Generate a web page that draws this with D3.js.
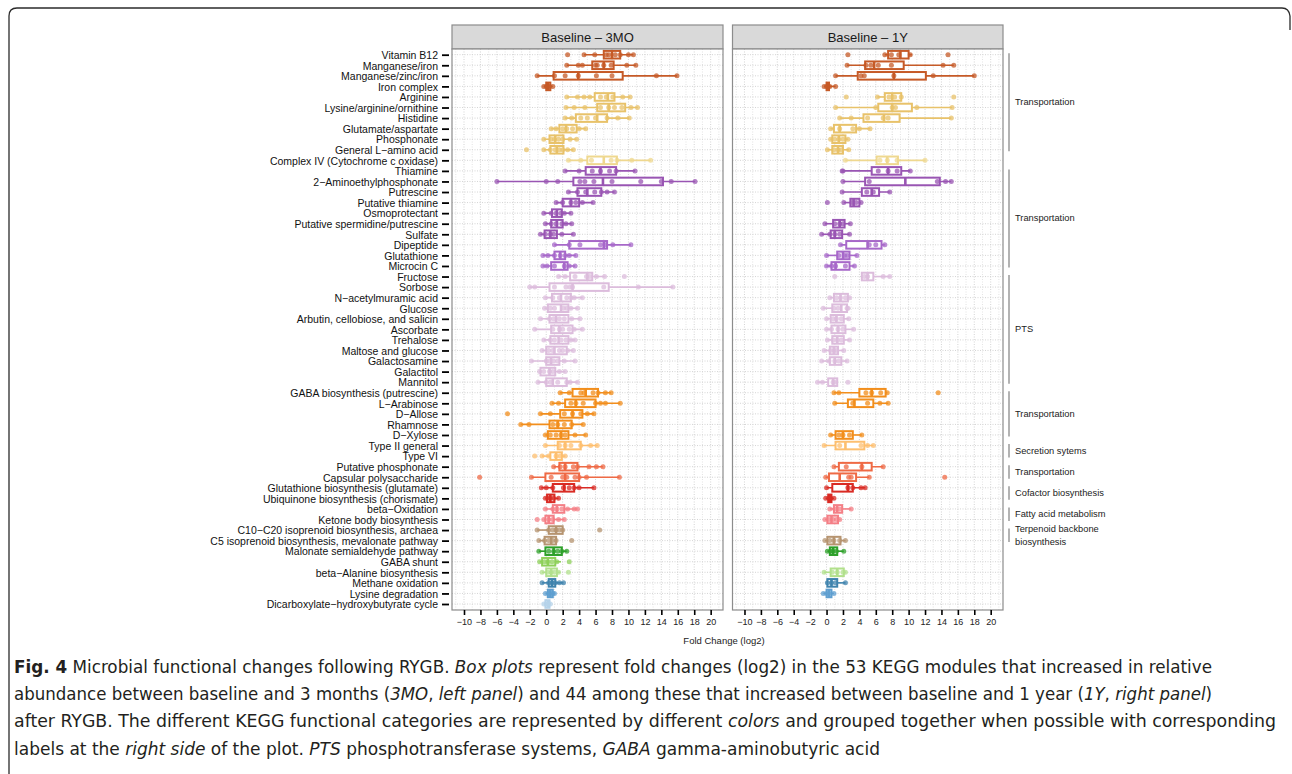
<!DOCTYPE html>
<html>
<head>
<meta charset="utf-8">
<script src="https://cdn.jsdelivr.net/npm/d3@7"></script>
<style>
  body { margin: 0; background: #fff; }
  svg { display: block; }
</style>
</head>
<body>
<div id="chart"></div>
<script>
// KEGG modules, top to bottom
const modules = [
  'Vitamin B12', 'Manganese/iron', 'Manganese/zinc/iron', 'Iron complex', 'Arginine',
  'Lysine/arginine/ornithine', 'Histidine', 'Glutamate/aspartate', 'Phosphonate', 'General L\u2212amino acid',
  'Complex IV (Cytochrome c oxidase)', 'Thiamine', '2\u2212Aminoethylphosphonate', 'Putrescine', 'Putative thiamine',
  'Osmoprotectant', 'Putative spermidine/putrescine', 'Sulfate', 'Dipeptide', 'Glutathione',
  'Microcin C', 'Fructose', 'Sorbose', 'N\u2212acetylmuramic acid', 'Glucose',
  'Arbutin, cellobiose, and salicin', 'Ascorbate', 'Trehalose', 'Maltose and glucose', 'Galactosamine',
  'Galactitol', 'Mannitol', 'GABA biosynthesis (putrescine)', 'L\u2212Arabinose', 'D\u2212Allose',
  'Rhamnose', 'D\u2212Xylose', 'Type II general', 'Type VI', 'Putative phosphonate',
  'Capsular polysaccharide', 'Glutathione biosynthesis (glutamate)', 'Ubiquinone biosynthesis (chorismate)', 'beta\u2212Oxidation', 'Ketone body biosynthesis',
  'C10\u2212C20 isoprenoid biosynthesis, archaea', 'C5 isoprenoid biosynthesis, mevalonate pathway', 'Malonate semialdehyde pathway', 'GABA shunt', 'beta\u2212Alanine biosynthesis',
  'Methane oxidation', 'Lysine degradation', 'Dicarboxylate\u2212hydroxybutyrate cycle'
];

// colour group of every module (index into palette)
const moduleGroup = [
  0, 0, 0, 0, 1, 1, 1, 1, 1, 1,
  2, 3, 3, 3, 3, 3, 3, 3, 4, 4,
  4, 5, 5, 5, 5, 5, 5, 5, 5, 5,
  5, 5, 6, 6, 6, 6, 6, 7, 7, 8,
  8, 9, 9, 10, 10, 11, 11, 12, 13, 14,
  15, 16, 17
];
const palette = [
  '#c65a27', '#e8c26a', '#efd88f', '#9955b3', '#a768c9', '#dcbcdc',
  '#f28e1c', '#fdbf6f', '#ef6a45', '#d92b24', '#f47f86', '#b69470',
  '#2ea02a', '#8ed05a', '#b2e08c', '#3f83ad', '#5f9fd0', '#b5d3ea'
];

// box stats [lower whisker, q1, median, q3, upper whisker] - baseline to 3MO
const box3mo = [
  [4.6, 7.0, 8.0, 9.0, 10.6], [2.5, 5.6, 7.0, 8.2, 10.9], [-1.1, 0.9, 3.9, 9.3, 15.9], [-0.3, 0.0, 0.2, 0.5, 0.8],
  [2.5, 5.9, 7.5, 8.3, 10.2], [2.4, 6.2, 7.6, 9.6, 11.1], [2.3, 3.6, 6.2, 7.4, 10.1], [0.6, 1.6, 2.4, 3.7, 4.8],
  [-0.3, 0.4, 1.1, 2.1, 3.7], [-0.3, 0.5, 1.3, 2.1, 3.3], [2.7, 5.0, 7.0, 8.6, 12.7], [2.3, 4.8, 6.6, 8.5, 10.8],
  [-6.0, 3.3, 6.9, 14.2, 18.1], [2.7, 3.8, 5.0, 6.7, 8.3], [1.2, 2.0, 3.0, 4.0, 5.7], [-0.3, 0.7, 1.3, 1.9, 3.0],
  [-0.1, 0.6, 1.3, 2.0, 3.1], [-0.7, -0.2, 0.5, 1.3, 3.3], [1.0, 2.8, 7.0, 7.4, 10.3], [-0.4, 1.0, 1.7, 2.3, 3.6],
  [-0.4, 0.6, 2.2, 2.6, 3.5], [1.5, 2.9, 5.0, 5.6, 7.1], [-2.0, 0.4, 3.2, 7.6, 15.4], [-0.1, 0.7, 1.8, 3.0, 4.4],
  [-0.2, 0.2, 1.8, 2.7, 3.8], [-0.7, 0.4, 1.2, 2.7, 4.1], [-1.4, 0.6, 1.6, 3.2, 4.4], [-0.3, 0.5, 1.5, 2.7, 3.5],
  [-0.5, 0.0, 1.0, 2.5, 3.3], [-1.8, 0.0, 0.6, 1.6, 3.5], [-0.8, -0.7, 0.4, 1.1, 2.3], [-1.0, 0.0, 0.8, 2.5, 3.8],
  [1.7, 3.2, 4.8, 6.3, 7.9], [0.7, 2.3, 3.6, 6.0, 9.0], [-0.7, 1.7, 3.2, 4.4, 5.8], [-3.1, 0.4, 1.4, 3.1, 4.5],
  [-0.1, 0.2, 1.8, 2.7, 4.8], [-0.1, 1.4, 2.3, 4.2, 6.2], [-0.5, 0.5, 1.2, 1.9, 2.3], [0.9, 1.6, 2.3, 3.8, 6.9],
  [-1.8, -0.1, 2.3, 4.0, 8.9], [-0.6, 0.8, 2.2, 3.4, 5.8], [-0.1, 0.1, 0.5, 1.0, 1.5], [-0.1, 0.8, 1.3, 2.2, 3.8],
  [-0.3, -0.1, 0.3, 0.9, 2.2], [-1.1, 0.3, 1.2, 2.0, 2.1], [-0.9, -0.2, 0.6, 1.2, 1.3], [-0.9, -0.1, 0.9, 1.9, 2.5],
  [-0.8, -0.5, 0.2, 1.1, 1.8], [-0.5, 0.0, 0.6, 1.3, 1.7], [-0.5, 0.3, 0.7, 1.1, 2.1], [-0.1, 0.2, 0.5, 0.8, 1.0],
  [-0.3, -0.1, 0.2, 0.4, 0.5]
];

// individual samples - baseline to 3MO
const points3mo = [
  [2.6, 4.6, 5.9, 7.3, 7.6, 8.4, 9.0, 10.0, 10.6], [2.5, 3.9, 4.4, 6.0, 6.2, 7.0, 7.9, 9.8, 10.9],
  [-1.1, 1.0, 2.3, 3.9, 6.1, 8.0, 13.4, 15.9], [-0.3, 0.0, 0.2, 0.4, 0.8],
  [2.5, 3.8, 4.6, 5.3, 6.6, 7.3, 8.1, 9.3, 10.2], [2.4, 3.4, 4.7, 6.6, 7.6, 8.3, 9.2, 10.3, 11.1],
  [2.3, 3.1, 4.2, 5.0, 6.0, 7.4, 8.7, 10.1], [0.6, 1.2, 2.0, 2.5, 3.2, 4.0, 4.8],
  [-0.3, 0.6, 1.0, 1.5, 2.0, 2.9, 3.7], [-2.4, -0.3, 0.5, 1.1, 1.6, 2.0, 2.6, 3.3],
  [2.7, 4.2, 5.5, 7.9, 8.6, 10.4, 12.7], [2.3, 4.0, 5.6, 6.6, 7.7, 8.5, 10.8],
  [-6.0, 0.0, 1.4, 4.1, 4.7, 5.8, 8.0, 11.5, 14.0, 15.2, 18.1], [2.7, 3.8, 4.8, 5.9, 6.7, 7.4, 8.3],
  [1.2, 2.0, 3.0, 3.6, 4.4, 5.7], [-0.3, 0.6, 1.2, 1.8, 2.2, 3.0],
  [-0.1, 0.6, 1.2, 1.9, 2.4, 3.1], [-0.7, -0.1, 0.5, 0.9, 1.9, 3.3],
  [1.0, 2.8, 4.1, 6.6, 7.2, 8.1, 10.3], [-0.4, 0.2, 1.0, 1.7, 2.3, 2.8, 3.6],
  [-0.4, 0.1, 1.0, 2.2, 2.8, 3.5], [1.5, 2.3, 3.5, 4.9, 5.3, 6.1, 7.1, 9.5],
  [-2.0, -1.4, 1.0, 2.4, 2.9, 3.2, 7.0, 11.2, 15.4], [-0.1, 0.8, 1.6, 2.5, 3.0, 3.4, 4.4],
  [-0.2, 0.5, 1.0, 2.1, 2.5, 3.0, 3.8], [-0.7, 0.4, 0.9, 1.6, 2.2, 3.1, 4.1],
  [-1.4, 0.8, 1.6, 2.0, 2.8, 3.4, 4.4], [-0.3, 0.5, 1.0, 1.8, 2.4, 3.0, 3.5],
  [-0.5, 0.3, 0.8, 1.6, 2.0, 2.6, 3.3], [-1.8, 0.0, 0.4, 0.9, 1.4, 2.2, 3.5],
  [-0.8, -0.3, 0.4, 0.8, 1.6, 2.3], [-1.0, 0.0, 0.5, 1.4, 2.5, 2.9, 3.8],
  [1.7, 2.8, 4.2, 4.6, 5.7, 6.3, 7.2, 7.9], [0.7, 1.5, 3.0, 3.6, 4.5, 6.0, 6.6, 7.2, 9.0],
  [-4.7, -0.7, 0.5, 2.2, 3.2, 4.2, 5.0, 5.8], [-3.1, -2.1, 0.8, 1.4, 2.2, 3.1, 4.5],
  [-0.1, 0.5, 1.2, 1.8, 2.3, 3.5, 4.8], [-0.1, 1.6, 2.3, 3.0, 4.2, 5.4, 6.2],
  [-1.4, -0.5, 0.3, 1.2, 1.7, 2.3], [0.9, 1.7, 2.3, 3.3, 3.8, 5.2, 6.1, 6.9],
  [-8.1, -1.8, 0.6, 2.0, 2.5, 3.5, 4.0, 4.9, 8.9], [-0.6, 0.0, 0.8, 2.1, 2.8, 3.4, 4.0, 5.8],
  [-0.1, 0.2, 0.5, 0.9, 1.5], [-0.1, 0.8, 1.3, 1.9, 2.6, 3.4, 3.8],
  [-1.1, -0.3, 0.3, 0.8, 1.5, 2.2], [-1.1, 0.3, 0.8, 1.2, 1.6, 2.0, 6.5],
  [-0.9, -0.2, 0.3, 0.8, 1.2, 3.1], [-0.9, 0.3, 0.9, 1.4, 1.9, 2.5],
  [-0.8, -0.2, 0.2, 0.7, 1.3, 2.8], [-0.5, 0.2, 0.6, 1.0, 1.5, 2.7],
  [-0.5, 0.3, 0.7, 1.1, 1.6, 2.1], [-0.1, 0.3, 0.5, 0.8, 1.0],
  [-0.3, 0.0, 0.2, 0.5]
];

// box stats - baseline to 1Y (null = module not increased at 1Y)
const box1y = [
  [7.1, 7.5, 9.0, 10.0, 10.4], [2.5, 4.7, 5.8, 9.4, 15.5], [1.1, 3.8, 8.2, 12.1, 18.0], [-0.3, 0.0, 0.2, 0.3, 1.1],
  [6.2, 7.1, 8.0, 9.1, 9.1], [1.1, 6.3, 8.0, 10.4, 15.3], [1.6, 4.5, 7.0, 8.9, 15.2], [0.5, 0.9, 1.6, 3.6, 5.3],
  [0.5, 0.7, 1.5, 2.3, 2.6], [0.1, 0.7, 1.4, 2.0, 2.7], [2.3, 6.1, 7.4, 8.7, 12.0], [1.9, 5.5, 7.5, 9.1, 10.2],
  [2.0, 4.7, 9.6, 13.8, 15.2], [1.9, 4.3, 5.5, 6.4, 7.7], [2.1, 2.9, 3.3, 4.0, 4.2], null,
  [-0.2, 0.8, 1.6, 2.2, 2.9], [-0.6, 0.5, 1.0, 1.9, 2.8], [1.7, 2.4, 5.0, 6.7, 7.1], [0.0, 1.3, 2.0, 2.8, 3.7],
  [0.0, 0.6, 1.1, 2.8, 3.4], [4.3, 4.3, 5.0, 5.7, 7.7], null, [0.4, 0.9, 1.7, 2.6, 2.8],
  [-0.4, 0.7, 1.8, 2.5, 2.6], [0.0, 0.5, 1.2, 2.1, 2.7], [0.0, 0.6, 1.4, 2.3, 3.3], [0.1, 0.7, 1.3, 2.1, 2.8],
  [-0.3, 0.4, 0.9, 1.4, 2.1], [-0.6, 0.4, 1.0, 1.8, 2.5], null, [-1.1, 0.2, 0.8, 1.3, 1.3],
  [0.9, 4.0, 5.5, 7.2, 7.4], [1.0, 2.6, 3.4, 5.7, 7.5], null, null,
  [0.5, 1.1, 2.0, 3.2, 4.3], [-0.3, 1.1, 2.3, 4.6, 5.7], null, [0.9, 1.5, 4.3, 5.5, 6.9],
  [-0.1, 0.3, 1.6, 3.6, 5.2], [0.0, 0.7, 2.6, 3.2, 4.7], [-0.1, 0.2, 0.4, 0.6, 0.9], [0.4, 0.9, 1.3, 1.9, 3.0],
  [-0.2, 0.1, 0.6, 1.4, 1.6], null, [-0.2, 0.1, 0.9, 1.7, 2.3], [0.1, 0.4, 0.8, 1.3, 2.1],
  null, [-0.3, 0.5, 1.3, 2.1, 2.3], [0.1, 0.1, 0.6, 1.3, 2.3], [-0.4, 0.0, 0.3, 0.6, 0.9],
  null
];

const points1y = [
  [2.6, 7.1, 7.9, 8.8, 10.2, 14.8], [2.5, 4.8, 5.4, 6.3, 7.9, 14.2, 15.5],
  [1.1, 4.2, 4.6, 8.2, 13.0, 18.0], [-0.3, 0.0, 0.2, 0.4, 1.1],
  [2.4, 6.2, 7.6, 8.3, 9.1, 15.5], [1.1, 6.0, 8.0, 8.4, 11.0, 15.3],
  [1.6, 3.0, 5.0, 6.9, 7.5, 15.2], [0.5, 1.6, 3.2, 4.0, 5.3],
  [0.5, 1.0, 1.5, 2.0, 2.6], [0.1, 0.9, 1.4, 1.8, 2.7],
  [2.3, 6.5, 7.4, 8.6, 12.0], [1.9, 2.0, 6.3, 7.5, 8.6, 10.2],
  [2.0, 5.2, 13.5, 14.5, 15.2], [1.9, 4.9, 5.7, 7.7],
  [0.1, 2.1, 3.1, 3.6, 4.2], [],
  [-0.2, 1.0, 1.6, 2.0, 2.9], [-0.6, 0.4, 1.0, 1.6, 2.8],
  [1.7, 5.2, 6.0, 7.1], [0.0, 1.5, 2.2, 2.5, 3.7],
  [0.0, 0.6, 1.1, 2.3, 3.4], [1.0, 4.6, 5.0, 6.9, 7.7],
  [], [0.4, 1.2, 1.7, 2.3, 2.8],
  [-0.4, 0.9, 1.4, 2.5, 2.6], [0.0, 0.8, 1.2, 1.8, 2.7],
  [0.0, 0.6, 1.4, 2.0, 3.3], [0.1, 0.8, 1.3, 1.8, 2.8],
  [-0.3, 0.5, 0.9, 1.2, 2.1], [-0.6, 0.3, 1.0, 1.5, 2.5],
  [], [-1.1, -0.5, 0.8, 1.0, 2.6],
  [0.9, 1.5, 4.8, 5.5, 6.6, 7.4, 13.6], [1.0, 3.2, 5.0, 6.5, 7.5],
  [], [],
  [0.5, 1.5, 2.0, 2.8, 4.3], [-0.3, 1.6, 4.2, 5.0, 5.7],
  [], [0.9, 2.4, 4.3, 6.9],
  [-0.1, 2.7, 3.0, 5.2, 14.4], [0.0, 2.6, 3.2, 4.2, 4.7],
  [-0.1, 0.3, 0.5, 0.9], [0.4, 1.0, 1.6, 3.0],
  [-0.2, 0.3, 0.8, 1.2, 1.6], [],
  [-0.2, 0.4, 0.9, 1.6, 2.3], [0.1, 0.5, 0.8, 1.2, 2.1],
  [], [-0.3, 0.7, 1.3, 2.0, 2.3],
  [0.1, 0.6, 1.1, 2.3], [-0.4, 0.0, 0.3, 0.9],
  []
];

// functional category labels at the right side: [first module, last module, label lines]
const categoryLabels = [
  [0, 9, ['Transportation']],
  [11, 20, ['Transportation']],
  [21, 31, ['PTS']],
  [32, 36, ['Transportation']],
  [37, 38, ['Secretion sytems']],
  [39, 40, ['Transportation']],
  [41, 42, ['Cofactor biosynthesis']],
  [43, 44, ['Fatty acid metabolism']],
  [45, 46, ['Terpenoid backbone', 'biosynthesis']]
];

const panelTitles = ['Baseline \u2013 3MO', 'Baseline \u2013 1Y'];
const xTicks = d3.range(-10, 21, 2);

// ---------------------------------------------------------------
const W = 1292, H = 774;
const font = '"Liberation Sans", Arial, Helvetica, sans-serif';

const svg = d3.select('#chart').append('svg')
  .attr('width', W)
  .attr('height', H);

svg.append('rect').attr('width', W).attr('height', H).attr('fill', '#fff');

// rounded frame around the figure
svg.append('path')
  .attr('d', 'M9,774 L9,16 Q9,8 17,8 L1282,8 Q1289,8 1290,16 L1290,30')
  .attr('fill', 'none')
  .attr('stroke', '#2b2b2b')
  .attr('stroke-width', 1.3);

const y = d3.scalePoint()
  .domain(modules)
  .range([54.7, 604]);

const panels = [
  { x0: 452, x1: 723, boxes: box3mo, pts: points3mo },
  { x0: 732.5, x1: 1003, boxes: box1y, pts: points1y }
];
const panelTop = 49, panelBottom = 610, stripTop = 25;

panels.forEach((p, pi) => {
  const x = d3.scaleLinear()
    .domain([-11.46, 21.5])
    .range([p.x0, p.x1]);

  const g = svg.append('g');

  // strip
  g.append('rect')
    .attr('x', p.x0).attr('y', stripTop)
    .attr('width', p.x1 - p.x0).attr('height', panelTop - stripTop)
    .attr('fill', '#d9d9d9')
    .attr('stroke', '#8c8c8c')
    .attr('stroke-width', 1.2);

  g.append('text')
    .attr('x', (p.x0 + p.x1) / 2)
    .attr('y', stripTop + 16.5)
    .attr('text-anchor', 'middle')
    .attr('font-family', font)
    .attr('font-size', 13)
    .attr('fill', '#1a1a1a')
    .text(panelTitles[pi]);

  // panel background + grid
  g.append('rect')
    .attr('x', p.x0).attr('y', panelTop)
    .attr('width', p.x1 - p.x0).attr('height', panelBottom - panelTop)
    .attr('fill', '#fff');

  d3.range(-11, 22, 1).forEach(v => {
    g.append('line')
      .attr('x1', x(v)).attr('x2', x(v))
      .attr('y1', panelTop).attr('y2', panelBottom)
      .attr('stroke', v % 2 === 0 ? '#cfcfcf' : '#e0e0e0')
      .attr('stroke-width', 0.9)
      .attr('stroke-dasharray', '1,1.5');
  });
  modules.forEach(m => {
    g.append('line')
      .attr('x1', p.x0).attr('x2', p.x1)
      .attr('y1', y(m)).attr('y2', y(m))
      .attr('stroke', '#cfcfcf')
      .attr('stroke-width', 0.9)
      .attr('stroke-dasharray', '1,1.5');
  });

  // boxplots
  const bh = 7.6;
  modules.forEach((m, i) => {
    const b = p.boxes[i];
    const col = palette[moduleGroup[i]];
    const cy = y(m);
    if (b) {
      g.append('line')
        .attr('x1', x(b[0])).attr('x2', x(b[4]))
        .attr('y1', cy).attr('y2', cy)
        .attr('stroke', col)
        .attr('stroke-width', 1.6);
      g.append('rect')
        .attr('x', x(b[1])).attr('y', cy - bh / 2)
        .attr('width', Math.max(x(b[3]) - x(b[1]), 1)).attr('height', bh)
        .attr('fill', '#fff')
        .attr('stroke', col)
        .attr('stroke-width', 2);
      g.append('line')
        .attr('x1', x(b[2])).attr('x2', x(b[2]))
        .attr('y1', cy - bh / 2).attr('y2', cy + bh / 2)
        .attr('stroke', col)
        .attr('stroke-width', 2.6);
    }
    g.selectAll(null)
      .data(p.pts[i])
      .join('circle')
      .attr('cx', d => x(d))
      .attr('cy', cy)
      .attr('r', 2.5)
      .attr('fill', col)
      .attr('fill-opacity', 0.75);
  });

  // panel border
  g.append('rect')
    .attr('x', p.x0).attr('y', panelTop)
    .attr('width', p.x1 - p.x0).attr('height', panelBottom - panelTop)
    .attr('fill', 'none')
    .attr('stroke', '#8c8c8c')
    .attr('stroke-width', 1.2);

  // x axis
  const xAxis = g.append('g')
    .attr('transform', `translate(0,${panelBottom})`)
    .call(d3.axisBottom(x).tickValues(xTicks).tickSize(5).tickPadding(4)
      .tickFormat(d => d < 0 ? '\u2212' + Math.abs(d) : d));
  xAxis.select('.domain').remove();
  xAxis.selectAll('line').attr('stroke', '#000').attr('stroke-width', 1.6);
  xAxis.selectAll('text')
    .attr('font-family', font)
    .attr('font-size', 9)
    .attr('fill', '#222');
});

// y axis labels + ticks
const yAxis = svg.append('g')
  .attr('transform', 'translate(451,0)')
  .call(d3.axisLeft(y).tickSize(7).tickPadding(6));
yAxis.select('.domain').remove();
yAxis.selectAll('line').attr('stroke', '#000').attr('stroke-width', 1.8).attr('transform', 'translate(-2,0)');
yAxis.selectAll('text')
  .attr('font-family', font)
  .attr('font-size', 10.5)
  .attr('fill', '#111')
  .attr('dy', '0.36em');

// x axis title
svg.append('text')
  .attr('x', 724)
  .attr('y', 644)
  .attr('text-anchor', 'middle')
  .attr('font-family', font)
  .attr('font-size', 9.5)
  .attr('fill', '#222')
  .text('Fold Change (log2)');

// category brackets on the right
categoryLabels.forEach(c => {
  const ya = y(modules[c[0]]) - 1.5, yb = y(modules[c[1]]) + 1.5;
  svg.append('line')
    .attr('x1', 1009).attr('x2', 1009)
    .attr('y1', ya).attr('y2', yb)
    .attr('stroke', '#ababab')
    .attr('stroke-width', 1.8);
  const mid = (ya + yb) / 2;
  const lines = c[2];
  lines.forEach((t, k) => {
    svg.append('text')
      .attr('x', 1015)
      .attr('y', mid + 3 + (k - (lines.length - 1) / 2) * 13)
      .attr('font-family', font)
      .attr('font-size', 9.3)
      .attr('fill', '#222')
      .text(t);
  });
});

// caption
const captionLines = [
  [['b', 'Fig. 4'], ['n', ' Microbial functional changes following RYGB. '], ['i', 'Box plots'], ['n', ' represent fold changes (log2) in the 53 KEGG modules that increased in relative']],
  [['n', 'abundance between baseline and 3 months ('], ['i', '3MO'], ['n', ', '], ['i', 'left panel'], ['n', ') and 44 among these that increased between baseline and 1 year ('], ['i', '1Y'], ['n', ', '], ['i', 'right panel'], ['n', ')']],
  [['n', 'after RYGB. The different KEGG functional categories are represented by different '], ['i', 'colors'], ['n', ' and grouped together when possible with corresponding']],
  [['n', 'labels at the '], ['i', 'right side'], ['n', ' of the plot. '], ['i', 'PTS'], ['n', ' phosphotransferase systems, '], ['i', 'GABA'], ['n', ' gamma-aminobutyric acid']]
];
const captionWidths = [1198, 1198, 1262, 866];

captionLines.forEach((line, li) => {
  const t = svg.append('text')
    .attr('x', 14)
    .attr('y', 673 + li * 27.2)
    .attr('font-family', '"Liberation Sans Narrow", "DejaVu Sans Condensed", "Open Sans", sans-serif')
    .attr('font-size', 17)
    .attr('fill', '#231f20');
  line.forEach(seg => {
    t.append('tspan')
      .attr('font-weight', seg[0] === 'b' ? 'bold' : null)
      .attr('font-style', seg[0] === 'i' ? 'italic' : null)
      .text(seg[1]);
  });
  t.attr('textLength', captionWidths[li]).attr('lengthAdjust', 'spacingAndGlyphs');
});
</script>
</body>
</html>
